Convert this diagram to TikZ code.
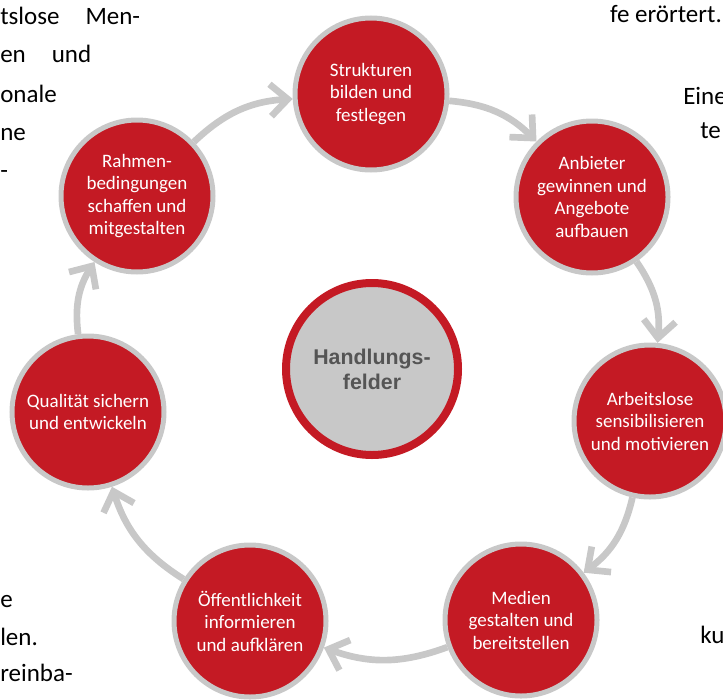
\documentclass[tikz,border=0pt]{standalone}
\usepackage{fontspec}
\setmainfont{Carlito}
\newfontfamily\hubfont{Liberation Sans}
\usetikzlibrary{arrows.meta}

\definecolor{fieldred}{HTML}{C41A24}
\definecolor{ringgray}{HTML}{C8C8C8}
\definecolor{hubtext}{HTML}{555555}

\begin{document}
\begin{tikzpicture}[x=0.75pt,y=0.75pt,
	field/.style={circle,draw=ringgray,line width=3.75pt,fill=fieldred,text=white,minimum size=114pt,inner sep=0pt,align=center,font=\fontsize{14.25}{16.9}\selectfont},
	hub/.style={circle,draw=fieldred,line width=6pt,fill=ringgray,text=hubtext,minimum size=129pt,inner sep=0pt,align=center,font=\hubfont\bfseries\fontsize{16}{18.75}\selectfont},
	flow/.style={draw=ringgray,line width=5pt,-{Straight Barb[length=13pt,width=24pt]},bend left=20},
	body/.style={inner sep=0pt,font=\fontsize{18.75}{28}\selectfont}]
	\clip (0,0) rectangle (723,-699);

	% running text round the figure
	\node[body,anchor=base west] (t1) at (0,-25) {tslose\hspace{19.5pt}Men-};
	\node[body,anchor=base west] (t2) at (0,-63) {en\hspace{19.5pt}und};
	\node[body,anchor=base west] (t3) at (0,-102) {onale};
	\node[body,anchor=base west] (t4) at (0,-140) {ne};
	\node[body,anchor=base west] (t5) at (0,-178) {-};
	\node[body,anchor=base west] (t6) at (0,-607) {e};
	\node[body,anchor=base west] (t7) at (0,-645) {len.};
	\node[body,anchor=base west] (t8) at (0,-681) {reinba-};
	\node[body,anchor=base east] (t9) at (722,-23) {fe erörtert.};
	\node[body,anchor=base west] (t10) at (683,-104) {Eine};
	\node[body,anchor=base west] (t11) at (700,-138) {te};
	\node[body,anchor=base west] (t12) at (700,-643) {ku};

	% fields
	\node[hub] (hub) at (372,-369) {Handlungs-\\felder};
	\node[field] (strukt) at (371,-94) {Strukturen\\bilden und\\festlegen};
	\node[field] (anbiet) at (592,-197) {Anbieter\\gewinnen und\\Angebote\\aufbauen};
	\node[field] (arbeits) at (650,-421) {Arbeitslose\\sensibilisieren\\und motivieren};
	\node[field] (medien) at (521,-620) {Medien\\gestalten und\\bereitstellen};
	\node[field] (oeffent) at (250,-621) {Öffentlichkeit\\informieren\\und aufklären};
	\node[field] (qualit) at (88,-412) {Qualität sichern\\und entwickeln};
	\node[field] (rahmen) at (137,-196) {Rahmen-\\bedingungen\\schaffen und\\mitgestalten};

	% cycle
	\draw[flow] (rahmen) to (strukt);
	\draw[flow] (strukt) to (anbiet);
	\draw[flow] (anbiet) to (arbeits);
	\draw[flow] (arbeits) to (medien);
	\draw[flow] (medien) to (oeffent);
	\draw[flow] (oeffent) to (qualit);
	\draw[flow] (qualit) to (rahmen);
\end{tikzpicture}
\end{document}
